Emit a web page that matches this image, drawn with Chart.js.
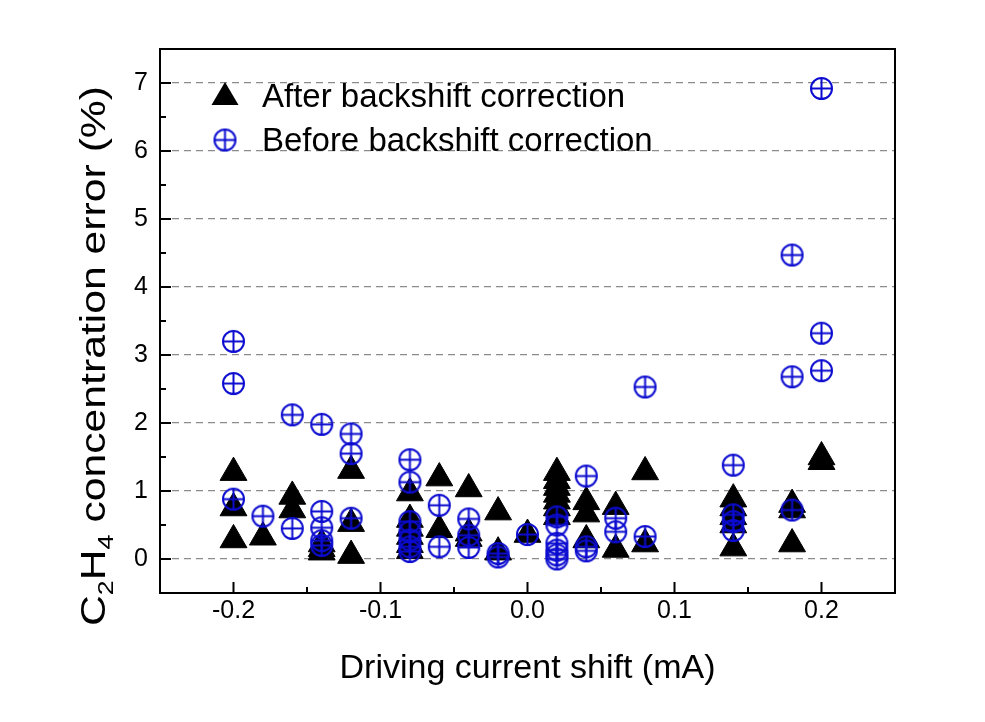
<!DOCTYPE html>
<html lang="en">

<head>
    <meta charset="UTF-8">
    <title>C2H4 concentration error</title>
    <style>
        body { margin: 0; background: #fff; }
        #wrap { width: 985px; height: 722px; }
    </style>
</head>

<body>
    <div id="wrap">
        <canvas id="myChart" width="985" height="722"></canvas>
    </div>

    <script src="https://cdn.jsdelivr.net/npm/chart.js"></script>
    <script>
        // values
        const afterX = [-0.2, -0.2, -0.2, -0.18, -0.16, -0.16, -0.14, -0.14, -0.14,
            -0.12, -0.12, -0.12, -0.08, -0.08, -0.08, -0.08, -0.08, -0.08,
            -0.06, -0.06, -0.04, -0.04, -0.04, -0.02, -0.02, 0,
            0.02, 0.02, 0.02, 0.02, 0.02, 0.02, 0.02, 0.04, 0.04, 0.04,
            0.06, 0.06, 0.08, 0.08, 0.14, 0.14, 0.14, 0.14, 0.14,
            0.18, 0.18, 0.18, 0.2, 0.2];
        const afterY = [1.27, 0.75, 0.28, 0.32, 0.92, 0.72, 0.22, 0.15, 0.1,
            1.3, 0.52, 0.05, 0.97, 0.58, 0.45, 0.33, 0.21, 0.12,
            1.19, 0.43, 1.03, 0.38, 0.3, 0.69, 0.1, 0.36,
            1.27, 1.15, 1.05, 0.95, 0.85, 0.75, 0.62, 0.84, 0.66, 0.28,
            0.77, 0.14, 1.28, 0.22, 0.88, 0.75, 0.62, 0.5, 0.16,
            0.8, 0.72, 0.22, 1.5, 1.43];

        const beforeX = [-0.2, -0.2, -0.2, -0.18, -0.16, -0.16, -0.14, -0.14, -0.14, -0.14, -0.14,
            -0.12, -0.12, -0.12, -0.08, -0.08, -0.08, -0.08, -0.08, -0.08, -0.08,
            -0.06, -0.06, -0.04, -0.04, -0.04, -0.02, -0.02, 0,
            0.02, 0.02, 0.02, 0.02, 0.02, 0.02, 0.04, 0.04, 0.04,
            0.06, 0.06, 0.08, 0.08, 0.14, 0.14, 0.14, 0.14,
            0.18, 0.18, 0.18, 0.2, 0.2, 0.2];
        const beforeY = [3.2, 2.58, 0.88, 0.63, 2.12, 0.45, 1.98, 0.7, 0.46, 0.27, 0.2,
            1.84, 1.55, 0.6, 1.46, 1.13, 0.55, 0.4, 0.28, 0.18, 0.11,
            0.79, 0.18, 0.59, 0.35, 0.17, 0.08, 0.03, 0.36,
            0.62, 0.5, 0.23, 0.13, 0.06, 0, 1.22, 0.18, 0.12,
            0.6, 0.4, 2.53, 0.33, 1.38, 0.65, 0.55, 0.42,
            4.47, 2.68, 0.72, 6.92, 3.32, 2.77];

        const seriesNames = ['After backshift correction', 'Before backshift correction'];
        const xTicks = [-0.2, -0.1, 0, 0.1, 0.2];
        const xMinor = [-0.15, -0.05, 0.05, 0.15];
        const yTicks = [0, 1, 2, 3, 4, 5, 6, 7];
        const yMinor = [0.5, 1.5, 2.5, 3.5, 4.5, 5.5, 6.5];

        const FONT = '"Liberation Sans", Arial, sans-serif';
        const BLUE = '#0c0cd0';

        Chart.defaults.font.family = FONT;
        Chart.defaults.color = '#000';

        // circle with a plus inside, used as point style
        function circlePlus(r) {
            const s = Math.ceil(r * 2 + 4);
            const cv = document.createElement('canvas');
            cv.width = s; cv.height = s;
            const g = cv.getContext('2d');
            g.strokeStyle = BLUE;
            g.lineWidth = 2;
            g.beginPath();
            g.arc(s / 2, s / 2, r, 0, Math.PI * 2);
            g.moveTo(s / 2 - r, s / 2); g.lineTo(s / 2 + r, s / 2);
            g.moveTo(s / 2, s / 2 - r); g.lineTo(s / 2, s / 2 + r);
            g.stroke();
            return cv;
        }
        const plusMark = circlePlus(10.5);

        function toPoints(xs, ys) {
            return xs.map((x, i) => ({ x: x, y: ys[i] }));
        }

        const frame = {
            id: 'frame',
            afterDraw(chart) {
                const c = chart.ctx, a = chart.chartArea;
                const xs = chart.scales.x, ys = chart.scales.y;
                c.save();
                c.strokeStyle = '#000';
                c.lineWidth = 2;
                c.strokeRect(a.left, a.top, a.right - a.left, a.bottom - a.top);

                // inward ticks
                c.beginPath();
                xTicks.forEach(v => { const p = xs.getPixelForValue(v); c.moveTo(p, a.bottom); c.lineTo(p, a.bottom - 11); });
                xMinor.forEach(v => { const p = xs.getPixelForValue(v); c.moveTo(p, a.bottom); c.lineTo(p, a.bottom - 6); });
                yTicks.forEach(v => { const p = ys.getPixelForValue(v); c.moveTo(a.left, p); c.lineTo(a.left + 11, p); });
                yMinor.forEach(v => { const p = ys.getPixelForValue(v); c.moveTo(a.left, p); c.lineTo(a.left + 6, p); });
                c.stroke();

                // legend
                const lx = a.left + 65;
                c.fillStyle = '#000';
                c.beginPath();
                c.moveTo(lx, 82);
                c.lineTo(lx + 13.5, 105);
                c.lineTo(lx - 13.5, 105);
                c.closePath();
                c.fill();
                c.drawImage(plusMark, lx - plusMark.width / 2, 140 - plusMark.height / 2);
                c.font = '33px ' + FONT;
                c.textAlign = 'left';
                c.textBaseline = 'alphabetic';
                c.fillText(seriesNames[0], lx + 37, 107);
                c.fillText(seriesNames[1], lx + 37, 151);

                // y axis title with subscripts
                c.translate(105, 626);
                c.rotate(-Math.PI / 2);
                c.scale(1.22, 1);
                const big = '35px ' + FONT, small = '22px ' + FONT;
                let px = 0;
                const part = (t, f, dy) => { c.font = f; c.fillText(t, px, dy); px += c.measureText(t).width; };
                part('C', big, 0);
                part('2', small, 8);
                part('H', big, 0);
                part('4', small, 8);
                part(' concentration error (%)', big, 0);
                c.restore();
            }
        };

        new Chart(document.getElementById('myChart'), {
            type: 'scatter',
            data: {
                datasets: [{
                    label: seriesNames[0],
                    data: toPoints(afterX, afterY),
                    pointStyle: 'triangle',
                    pointRadius: 15.5,
                    backgroundColor: '#000',
                    borderColor: '#000',
                    borderWidth: 1,
                    order: 2
                }, {
                    label: seriesNames[1],
                    data: toPoints(beforeX, beforeY),
                    pointStyle: plusMark,
                    pointRadius: 11,
                    order: 1
                }]
            },
            options: {
                responsive: false,
                animation: false,
                events: [],
                layout: { padding: { top: 49, right: 90, left: 0, bottom: 0 } },
                plugins: { legend: { display: false }, tooltip: { enabled: false } },
                scales: {
                    x: {
                        type: 'linear',
                        min: -0.25,
                        max: 0.25,
                        afterFit(s) { s.height = 129; },
                        afterBuildTicks(s) { s.ticks = xTicks.map(v => ({ value: v })); },
                        grid: { drawOnChartArea: false, drawTicks: false },
                        border: { display: false },
                        ticks: {
                            padding: 3,
                            font: { size: 25 },
                            callback: v => v.toFixed(1)
                        },
                        title: {
                            display: true,
                            text: 'Driving current shift (mA)',
                            font: { size: 34 },
                            padding: { top: 0, bottom: 33 }
                        }
                    },
                    y: {
                        type: 'linear',
                        min: -0.5,
                        max: 7.5,
                        afterFit(s) { s.width = 160; },
                        afterBuildTicks(s) { s.ticks = yTicks.map(v => ({ value: v })); },
                        grid: { color: '#8a8a8a', lineWidth: 1.2, drawTicks: false },
                        border: { display: false, dash: [7, 5] },
                        ticks: {
                            padding: 12,
                            font: { size: 25 },
                            callback: v => String(v)
                        }
                    }
                }
            },
            plugins: [frame]
        });
    </script>
</body>

</html>
